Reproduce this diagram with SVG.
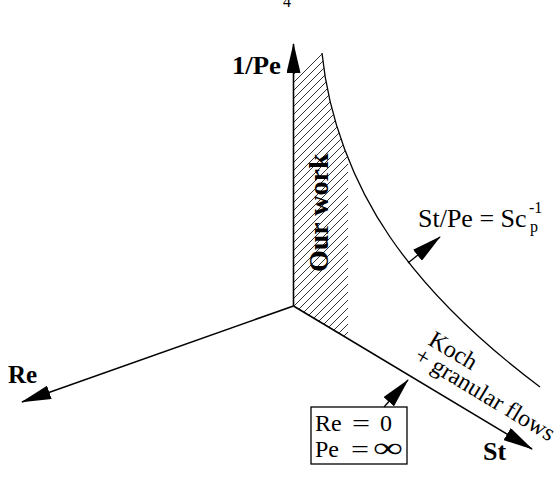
<svg xmlns="http://www.w3.org/2000/svg" width="560" height="478" viewBox="0 0 560 478">
<style>
.ax{stroke:#000;stroke-width:1.6;fill:none}
.ln{stroke:#000;stroke-width:1.3;fill:none}
.b{font-family:"Liberation Serif","Times New Roman",serif;font-weight:bold;fill:#000}
.r{font-family:"Liberation Serif","Times New Roman",serif;fill:#000}
</style>
<defs>
<marker id="ah" markerUnits="userSpaceOnUse" markerWidth="30" markerHeight="14" refX="29" refY="7" orient="auto" viewBox="0 0 30 14"><path d="M0,0 L30,7 L0,14 z" fill="#000"/></marker>
<pattern id="hatch" patternUnits="userSpaceOnUse" width="8" height="8"><path d="M-1,9 L9,-1 M-1,1 L1,-1 M7,9 L9,7" stroke="#000" stroke-width="0.8"/></pattern>
</defs>
<rect width="560" height="478" fill="#fff"/>
<text class="r" x="283" y="7" font-size="16">4</text>
<g id="region-our-work">
<path d="M293.5,73 L322,53 C325.6,88.75 334.7,124.6 348,158.4 L348,338 L293.5,306 Z" fill="url(#hatch)"/>
<text class="b" font-size="28" transform="translate(328,272) rotate(-90)">Our work</text>
</g>
<g id="connectors">
<line class="ax" x1="293.5" y1="306" x2="293.5" y2="44" marker-end="url(#ah)"/>
<line class="ax" x1="293.5" y1="306" x2="22" y2="402" marker-end="url(#ah)"/>
<line class="ax" x1="293.5" y1="306" x2="532" y2="449" marker-end="url(#ah)"/>
<path class="ln" d="M322,53 C328.5,118 353.2,183.4 390,237 C429.6,294.7 484,345 540,387"/>
<line class="ln" x1="408" y1="263" x2="440" y2="237" marker-end="url(#ah)"/>
<line class="ln" x1="384" y1="407" x2="408" y2="380" marker-end="url(#ah)"/>
</g>
<g id="label-1-pe"><text class="b" x="232" y="74" font-size="26" textLength="49" lengthAdjust="spacingAndGlyphs">1/Pe</text></g>
<g id="label-re"><text class="b" x="8" y="383" font-size="25">Re</text></g>
<g id="label-st"><text class="b" x="483" y="460" font-size="26">St</text></g>
<g id="label-sc">
<text class="r" font-size="26" x="418" y="227">St/Pe = Sc</text>
<text class="r" font-size="16" x="529" y="213">-1</text>
<text class="r" font-size="16" x="530" y="232">p</text>
</g>
<g id="label-koch">
<text class="r" font-size="24" transform="translate(427,344) rotate(31)">Koch</text>
<text class="r" font-size="24" transform="translate(413,360) rotate(31)">+ granular flows</text>
</g>
<g id="box-limits">
<rect class="ln" x="311" y="407" width="96" height="57"/>
<text class="r" font-size="24" y="431"><tspan x="315">Re</tspan><tspan x="352" textLength="18" lengthAdjust="spacingAndGlyphs">=</tspan><tspan x="380">0</tspan></text>
<text class="r" font-size="24" y="457"><tspan x="315">Pe</tspan><tspan x="351" textLength="18" lengthAdjust="spacingAndGlyphs">=</tspan><tspan x="373" font-size="28" textLength="30" lengthAdjust="spacingAndGlyphs">∞</tspan></text>
</g>
</svg>
